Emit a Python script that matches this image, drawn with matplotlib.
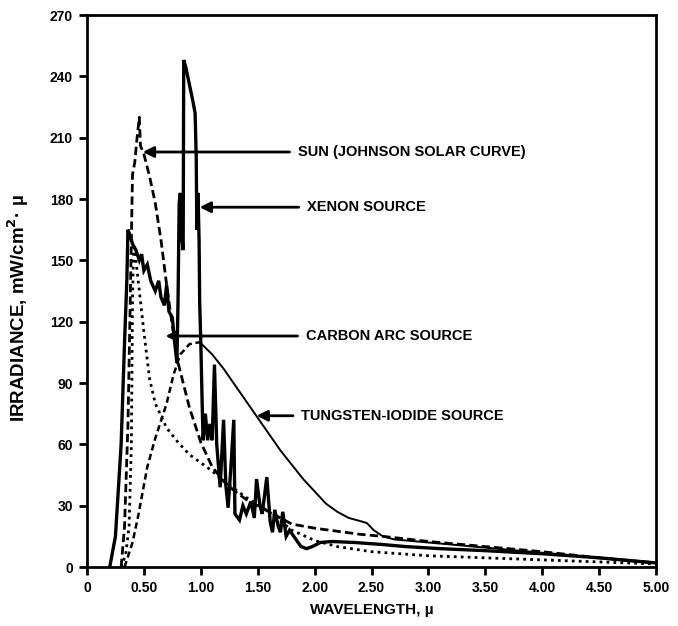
import matplotlib
matplotlib.use('Agg')
import matplotlib.pyplot as plt

plt.rcParams['font.family'] = ['Liberation Sans Narrow', 'Liberation Sans', 'DejaVu Sans']
plt.rcParams['font.weight'] = 'bold'

# wavelength (micron) / irradiance (mW/cm2 micron)
sun_x = [0.30, 0.33, 0.36, 0.38, 0.40, 0.42, 0.44, 0.46, 0.47, 0.50, 0.55, 0.60, 0.65,
         0.70, 0.75, 0.80, 0.90, 1.00, 1.10, 1.20, 1.30, 1.40, 1.50, 1.60, 1.70, 1.80,
         1.90, 2.00, 2.20, 2.40, 2.60, 3.00, 3.50, 4.00, 4.50, 5.00]
sun_y = [0, 20, 70, 130, 192, 198, 210, 220, 206, 202, 191, 178, 160,
         138, 118, 100, 78, 61, 49, 42, 37, 33, 30, 27, 24, 21,
         20, 19, 17.5, 16, 15, 12.5, 10, 7.5, 4.5, 2]

xenon_x = [0.20, 0.25, 0.30, 0.33, 0.35, 0.36, 0.38, 0.40, 0.43, 0.46, 0.48, 0.50, 0.53,
           0.56, 0.60, 0.63, 0.65, 0.68, 0.70, 0.72, 0.75, 0.77, 0.79, 0.80, 0.81, 0.82,
           0.835, 0.845, 0.85, 0.87, 0.90, 0.93, 0.95, 0.96, 0.965, 0.975, 0.985, 0.99,
           1.00, 1.01, 1.02, 1.04, 1.06, 1.08, 1.10, 1.12, 1.14, 1.17, 1.20, 1.22, 1.24,
           1.26, 1.29, 1.30, 1.34, 1.37, 1.40, 1.44, 1.47, 1.49, 1.52, 1.54, 1.58, 1.61,
           1.63, 1.65, 1.68, 1.70, 1.72, 1.75, 1.78, 1.83, 1.88, 1.93, 1.98, 2.05, 2.15,
           2.35, 2.60, 2.80, 3.10, 3.50, 4.00, 4.50, 5.00]
xenon_y = [0, 15, 60, 110, 140, 165, 162, 158, 155, 150, 153, 145, 148,
           140, 135, 140, 132, 128, 138, 125, 122, 110, 100, 130, 178, 183,
           160, 155, 248, 244, 236, 228, 222, 200, 165, 183, 160, 130,
           110, 85, 62, 75, 62, 70, 62, 99, 60, 39, 72, 40, 29,
           45, 72, 26, 23, 30, 26, 32, 24, 43, 30, 26, 44, 22,
           17, 28, 20, 17, 27, 15, 18, 14, 10, 9, 10, 12, 12.5,
           12, 11, 10, 9, 8, 6.5, 4.5, 2]

carbon_x = [0.30, 0.34, 0.37, 0.39, 0.40, 0.41, 0.42, 0.45, 0.50, 0.55, 0.60, 0.70,
            0.80, 0.90, 1.00, 1.10, 1.20, 1.40, 1.60, 1.80, 2.00, 2.20, 2.50, 3.00,
            3.50, 4.00, 4.50, 5.00]
carbon_y = [0, 6, 20, 60, 130, 158, 155, 140, 115, 92, 80, 68,
            61, 55, 51, 47, 42, 34, 27, 18, 13, 10, 7.5, 5.5,
            4.5, 3.5, 2.5, 1.5]

tung_x = [0.33, 0.40, 0.45, 0.53, 0.60, 0.70, 0.76, 0.82, 0.90, 0.99, 1.10, 1.20, 1.30,
          1.40, 1.50, 1.60, 1.70, 1.80, 1.90, 2.00, 2.10, 2.20, 2.30, 2.40, 2.46, 2.52,
          2.60, 2.70, 3.00, 3.50, 4.00, 4.50, 5.00]
tung_y = [0, 12, 25, 49, 63, 80, 94, 104, 109, 110, 104, 97, 89,
          81, 73, 65, 57, 50, 43, 37, 31, 27, 24, 22.5, 21.5, 18,
          15, 13.5, 12, 9.5, 7, 4.5, 2]
tung_split = 9  # rising part drawn dashed up to the peak

labels = ['SUN (JOHNSON SOLAR CURVE)', 'XENON SOURCE', 'CARBON ARC SOURCE',
          'TUNGSTEN-IODIDE SOURCE']
label_tips = [(0.49, 203), (0.99, 176), (0.69, 113), (1.49, 74)]
label_text = [(1.85, 203), (1.93, 176), (1.92, 113), (1.88, 74)]

y_ticks = [0, 30, 60, 90, 120, 150, 180, 210, 240, 270]
x_ticks = [0, 0.5, 1.0, 1.5, 2.0, 2.5, 3.0, 3.5, 4.0, 4.5, 5.0]
x_tick_labels = ['0', '0.50', '1.00', '1.50', '2.00', '2.50', '3.00', '3.50', '4.00',
                 '4.50', '5.00']

fig = plt.figure(figsize=(6.78, 6.26), dpi=100)
ax = fig.add_axes([0.1283, 0.0942, 0.8393, 0.8818])

ax.plot(sun_x, sun_y, color='black', lw=2.0, linestyle=(0, (3, 1.5)))
ax.plot(carbon_x, carbon_y, color='black', lw=2.0, linestyle=(0, (1, 1.5)))
ax.plot(tung_x[:tung_split + 1], tung_y[:tung_split + 1], color='black', lw=1.8,
        linestyle=(0, (2.5, 1.5)))
ax.plot(tung_x[tung_split:], tung_y[tung_split:], color='black', lw=1.4)
ax.plot(xenon_x, xenon_y, color='black', lw=2.4, solid_joinstyle='miter')

for lab, tip, pos in zip(labels, label_tips, label_text):
    ax.annotate('', xy=tip, xytext=(pos[0] - 0.07, pos[1]),
                arrowprops=dict(arrowstyle='-|>', color='black', lw=2,
                                mutation_scale=16, shrinkA=0, shrinkB=0))
    ax.text(pos[0], pos[1], lab, fontsize=10.5, fontweight='bold', va='center',
            ha='left')

ax.set_xlim(0, 5)
ax.set_ylim(0, 270)
ax.set_yticks(y_ticks)
ax.set_xticks(x_ticks)
ax.set_xticklabels(x_tick_labels)
ax.tick_params(direction='out', length=6, width=2, labelsize=10, pad=4)
for lbl in ax.get_xticklabels() + ax.get_yticklabels():
    lbl.set_fontweight('bold')
for s in ax.spines.values():
    s.set_linewidth(2)

ax.set_xlabel('WAVELENGTH, \u00b5', fontsize=11, fontweight='bold', labelpad=6)
ax.set_ylabel('IRRADIANCE, mW/cm$^{\\mathbf{2}}$\u00b7 \u00b5', fontsize=13.5,
              fontweight='bold')
ax.yaxis.set_label_coords(-0.098, 0.47)

fig.savefig('out.png', dpi=100)
